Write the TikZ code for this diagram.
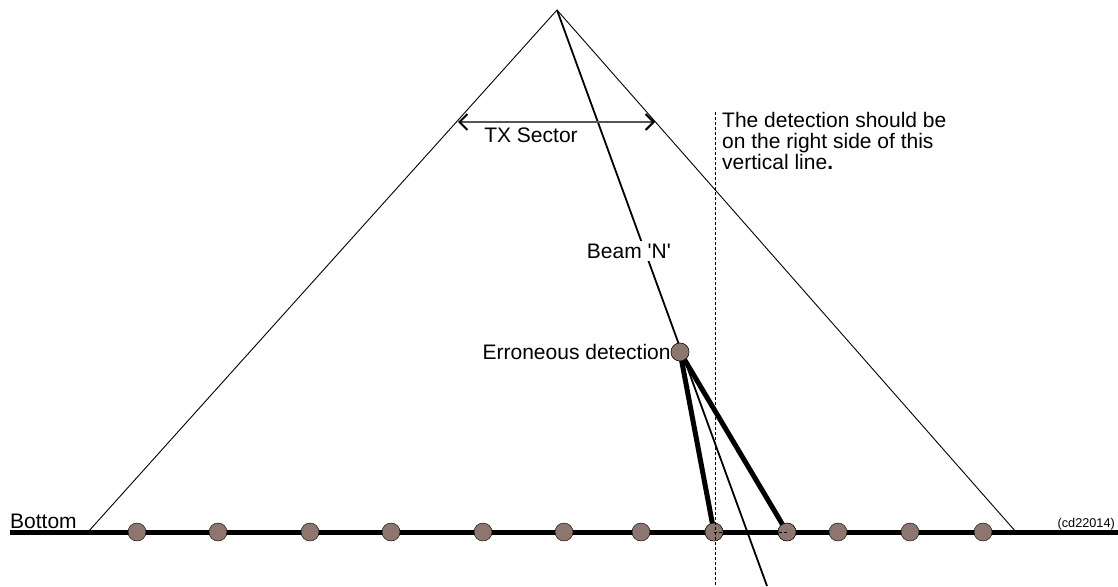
\documentclass[tikz,border=0pt]{standalone}
\usepackage{fontspec}
\setmainfont{Liberation Sans}
\usetikzlibrary{arrows.meta,positioning}
\definecolor{dot-fill}{HTML}{8C766E}
\definecolor{sector-grey}{HTML}{555555}

\tikzset{
  dotnode/.style={circle, draw=black, fill=dot-fill, thin, minimum size=18pt, inner sep=0pt},
  lbl/.style={font=\fontsize{21}{21}\selectfont, inner sep=0pt},
  thinleg/.style={line width=0.9pt},
  fatline/.style={line width=5pt},
  guide/.style={dashed, line width=0.7pt, dash pattern=on 3pt off 2pt},
  sectortip/.tip={Straight Barb[black,length=8pt,width=16pt,line width=2pt]},
}

\begin{document}
\begin{tikzpicture}[x=1pt,y=-1pt]
\useasboundingbox (0,0) rectangle (1118,586);
% sector outline
\coordinate (apex) at (557,10);
\coordinate (legL) at (88,532);
\coordinate (legR) at (1016,532);
\draw[thinleg] (legL) -- (apex) -- (legR);
% bottom
\coordinate (botL) at (10,532);
\coordinate (botR) at (1118,532);
\draw[fatline] (botL) -- (botR);
\node[lbl, anchor=base west] (bottom) at (10,528) {Bottom};
\node[font=\fontsize{12.7}{14}\selectfont, inner sep=0pt, anchor=base east] (tag) at (1115,527) {(cd22014)};
% beam
\coordinate (beamend) at (767,586);
\draw[line width=1.8pt] (apex) -- (beamend);
\node[lbl, anchor=base east, fill=white, inner ysep=3pt, inner xsep=0pt] (beam) at (671,258) {Beam \textquotesingle N\textquotesingle};
% TX sector
\coordinate (secL) at (458,122);
\coordinate (secR) at (655,122);
\draw[sector-grey, line width=1.2pt, sectortip-sectortip] (secL) -- (secR);
\node[lbl, anchor=base] (sector) at (531,142) {TX Sector};
% detections on the bottom
\foreach \x [count=\i] in {137,218,310,391,483,564,641,714,787,838,910,983}
  \node[dotnode] (d\i) at (\x,532) {};
% erroneous detection
\node[dotnode] (err) at (680,352) {};
\node[lbl, anchor=east] (errtxt) at (err.west) {Erroneous detection};
\draw[fatline, line cap=round] (err.center) -- (d8.center);
\draw[fatline, line cap=round] (err.center) -- (d9.center);
\node[dotnode] at (err) {};
\node[dotnode] at (d8) {};
\node[dotnode] at (d9) {};
% reference line
\coordinate (vtop) at (715,112);
\coordinate (vbot) at (715,586);
\draw[guide] (vtop) -- (vbot);
\draw[guide] (d8.center) -- (d9.center);
\node[lbl, anchor=north west, align=left] (note) at (722,112)
  {The detection should be\\on the right side of this\\vertical line{\bfseries .}};
\end{tikzpicture}
\end{document}
